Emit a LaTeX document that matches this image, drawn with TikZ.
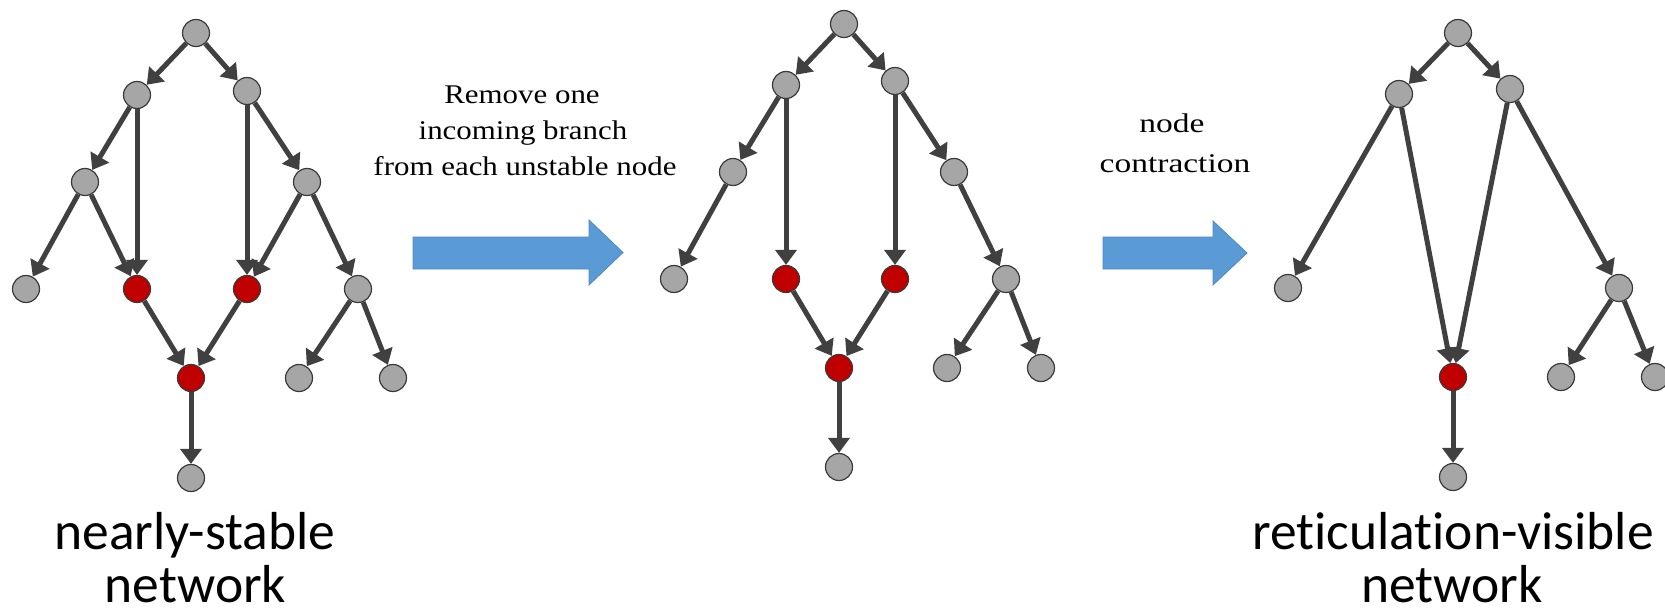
\documentclass[tikz,border=0pt]{standalone}
\usepackage{fontspec}
\usepackage{graphicx}
\setmainfont{Liberation Serif}
\newfontfamily\calibri[Ligatures=NoCommon]{Carlito}
\usetikzlibrary{arrows.meta}
\definecolor{ndgray}{HTML}{A6A6A6}
\definecolor{ndline}{HTML}{3A3A3A}
\definecolor{ndred}{HTML}{C00000}
\definecolor{edgecol}{HTML}{404040}
\definecolor{bluefill}{HTML}{5B9BD5}
\definecolor{blueline}{HTML}{4A88C6}
\tikzset{
  nd/.style={circle, minimum size=27pt, inner sep=0pt, fill=ndgray, draw=ndline, line width=1.2pt},
  rd/.style={nd, fill=ndred},
  ed/.style={draw=edgecol, line width=5pt, -{Triangle[length=15pt,width=21pt]}},
  serifline/.style={anchor=base, inner sep=0pt, font=\fontsize{27}{32}\selectfont},
  sansline/.style={anchor=base, inner sep=0pt, font=\calibri\fontsize{53.5}{60}\selectfont},
  bigarrow/.style={fill=bluefill, draw=blueline, line width=0.8pt}
}
\begin{document}
\begin{tikzpicture}[x=1pt,y=-1pt]
\useasboundingbox (0,0) rectangle (1665,610);
% ---------- network 1 ----------
\node[nd] (a0) at (196,33) {};
\node[nd] (a1) at (137,95) {};
\node[nd] (a2) at (247,91) {};
\node[nd] (a3) at (85,182) {};
\node[nd] (a4) at (307,182) {};
\node[nd] (a5) at (26,289) {};
\node[rd] (a6) at (137,289) {};
\node[rd] (a7) at (247,289) {};
\node[nd] (a8) at (358,289) {};
\node[rd] (a9) at (191,378) {};
\node[nd] (a10) at (299,378) {};
\node[nd] (a11) at (393,378) {};
\node[nd] (a12) at (191,478) {};
\draw[ed] (a0) -- (a1);
\draw[ed] (a0) -- (a2);
\draw[ed] (a1) -- (a3);
\draw[ed] (a1) -- (a6);
\draw[ed] (a3) -- (a5);
\draw[ed] (a3) -- (a6);
\draw[ed] (a2) -- (a7);
\draw[ed] (a2) -- (a4);
\draw[ed] (a4) -- (a7);
\draw[ed] (a4) -- (a8);
\draw[ed] (a6) -- (a9);
\draw[ed] (a7) -- (a9);
\draw[ed] (a8) -- (a10);
\draw[ed] (a8) -- (a11);
\draw[ed] (a9) -- (a12);
% ---------- network 2 ----------
\node[nd] (b0) at (844,24) {};
\node[nd] (b1) at (786,85) {};
\node[nd] (b2) at (895,81) {};
\node[nd] (b3) at (733,172) {};
\node[nd] (b4) at (954,172) {};
\node[nd] (b5) at (674,279) {};
\node[rd] (b6) at (786,279) {};
\node[rd] (b7) at (895,279) {};
\node[nd] (b8) at (1006,279) {};
\node[rd] (b9) at (839,368) {};
\node[nd] (b10) at (947,368) {};
\node[nd] (b11) at (1041,368) {};
\node[nd] (b12) at (839,467) {};
\draw[ed] (b0) -- (b1);
\draw[ed] (b0) -- (b2);
\draw[ed] (b1) -- (b3);
\draw[ed] (b1) -- (b6);
\draw[ed] (b3) -- (b5);
\draw[ed] (b2) -- (b7);
\draw[ed] (b2) -- (b4);
\draw[ed] (b4) -- (b8);
\draw[ed] (b6) -- (b9);
\draw[ed] (b7) -- (b9);
\draw[ed] (b8) -- (b10);
\draw[ed] (b8) -- (b11);
\draw[ed] (b9) -- (b12);
% ---------- network 3 ----------
\node[nd] (c0) at (1458,33) {};
\node[nd] (c1) at (1399,94) {};
\node[nd] (c2) at (1510,89) {};
\node[nd] (c5) at (1288,288) {};
\node[nd] (c8) at (1619,288) {};
\node[rd] (c9) at (1453,377) {};
\node[nd] (c10) at (1561,377) {};
\node[nd] (c11) at (1655,377) {};
\node[nd] (c12) at (1453,477) {};
\draw[ed] (c0) -- (c1);
\draw[ed] (c0) -- (c2);
\draw[ed] (c1) -- (c5);
\draw[ed] (c1) -- (c9);
\draw[ed] (c2) -- (c9);
\draw[ed] (c2) -- (c8);
\draw[ed] (c8) -- (c10);
\draw[ed] (c8) -- (c11);
\draw[ed] (c9) -- (c12);
% ---------- block arrows ----------
\draw[bigarrow] (413,237) -- (589,237) -- (589,220) -- (623,252.5) -- (589,285) -- (589,269) -- (413,269) -- cycle;
\draw[bigarrow] (1103,237) -- (1213,237) -- (1213,221) -- (1247,253) -- (1213,285) -- (1213,269) -- (1103,269) -- cycle;
% ---------- texts ----------
\node[serifline] (t1a) at (522,103) {\scalebox{1.145}[1]{Remove one}};
\node[serifline] (t1b) at (523,139) {\scalebox{1.145}[1]{incoming branch}};
\node[serifline] (t1c) at (525,175) {\scalebox{1.145}[1]{from each unstable node}};
\node[serifline] (t2a) at (1172,132) {\scalebox{1.24}[1]{node}};
\node[serifline] (t2b) at (1175,172) {\scalebox{1.24}[1]{contraction}};
\node[sansline] (l1a) at (195,549) {nearly-stable};
\node[sansline] (l1b) at (195.5,602) {network};
\node[sansline] (l3a) at (1453,549) {reticulation-visible};
\node[sansline] (l3b) at (1452,602) {network};
\end{tikzpicture}
\end{document}
